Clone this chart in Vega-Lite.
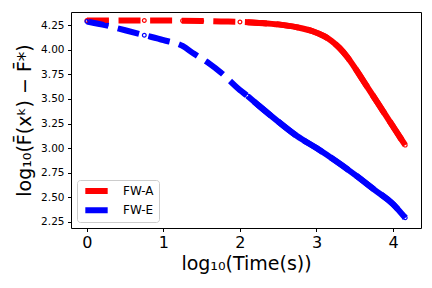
{
  "$schema": "https://vega.github.io/schema/vega-lite/v6.json",
  "width": 350,
  "height": 216,
  "autosize": {"type": "none"},
  "padding": {"left": 71, "top": 12, "right": 11, "bottom": 60},
  "background": "white",
  "config": {
    "view": {"stroke": "#000000", "strokeWidth": 1},
    "font": "DejaVu Sans",
    "axis": {
      "grid": false,
      "domain": false,
      "tickColor": "#000000",
      "tickSize": 3.5,
      "tickWidth": 1,
      "labelColor": "#000000",
      "labelFont": "DejaVu Sans",
      "titleFont": "DejaVu Sans",
      "titleColor": "#000000",
      "titleFontWeight": "normal"
    }
  },
  "data": {
    "values": [
      {"series": "FW-A", "t": 0, "v": 4.30},
      {"series": "FW-A", "t": 0.25, "v": 4.30},
      {"series": "FW-A", "t": 0.5, "v": 4.30},
      {"series": "FW-A", "t": 0.75, "v": 4.30},
      {"series": "FW-A", "t": 1.0, "v": 4.30},
      {"series": "FW-A", "t": 1.25, "v": 4.298},
      {"series": "FW-A", "t": 1.5, "v": 4.295},
      {"series": "FW-A", "t": 1.75, "v": 4.29},
      {"series": "FW-A", "t": 2.0, "v": 4.285},
      {"series": "FW-A", "t": 2.1, "v": 4.282},
      {"series": "FW-A", "t": 2.25, "v": 4.275},
      {"series": "FW-A", "t": 2.5, "v": 4.26},
      {"series": "FW-A", "t": 2.75, "v": 4.23},
      {"series": "FW-A", "t": 2.95, "v": 4.19},
      {"series": "FW-A", "t": 3.1, "v": 4.14},
      {"series": "FW-A", "t": 3.2, "v": 4.09},
      {"series": "FW-A", "t": 3.3, "v": 4.02},
      {"series": "FW-A", "t": 3.4, "v": 3.93},
      {"series": "FW-A", "t": 3.5, "v": 3.82},
      {"series": "FW-A", "t": 3.6, "v": 3.70},
      {"series": "FW-A", "t": 3.7, "v": 3.58},
      {"series": "FW-A", "t": 3.8, "v": 3.46},
      {"series": "FW-A", "t": 3.9, "v": 3.34},
      {"series": "FW-A", "t": 4.0, "v": 3.22},
      {"series": "FW-A", "t": 4.1, "v": 3.10},
      {"series": "FW-A", "t": 4.16, "v": 3.03},
      {"series": "FW-E", "t": 0, "v": 4.29},
      {"series": "FW-E", "t": 0.25, "v": 4.25},
      {"series": "FW-E", "t": 0.5, "v": 4.20},
      {"series": "FW-E", "t": 0.75, "v": 4.15},
      {"series": "FW-E", "t": 1.0, "v": 4.10},
      {"series": "FW-E", "t": 1.25, "v": 4.04},
      {"series": "FW-E", "t": 1.4, "v": 3.96},
      {"series": "FW-E", "t": 1.6, "v": 3.86},
      {"series": "FW-E", "t": 1.75, "v": 3.77},
      {"series": "FW-E", "t": 2.0, "v": 3.59},
      {"series": "FW-E", "t": 2.1, "v": 3.53},
      {"series": "FW-E", "t": 2.25, "v": 3.43},
      {"series": "FW-E", "t": 2.5, "v": 3.27},
      {"series": "FW-E", "t": 2.75, "v": 3.12},
      {"series": "FW-E", "t": 3.0, "v": 3.00},
      {"series": "FW-E", "t": 3.25, "v": 2.87},
      {"series": "FW-E", "t": 3.5, "v": 2.73},
      {"series": "FW-E", "t": 3.75, "v": 2.58},
      {"series": "FW-E", "t": 4.0, "v": 2.43},
      {"series": "FW-E", "t": 4.16, "v": 2.29}
    ]
  },
  "encoding": {
    "x": {
      "field": "t", "type": "quantitative",
      "scale": {"domain": [-0.208, 4.366], "nice": false, "zero": false},
      "axis": {
        "values": [0, 1, 2, 3, 4], "format": "d",
        "labelFontSize": 16, "labelPadding": 3,
        "title": "log₁₀(Time(s))", "titleFontSize": 19, "titlePadding": 4
      }
    },
    "y": {
      "field": "v", "type": "quantitative",
      "scale": {"domain": [2.186, 4.386], "nice": false, "zero": false},
      "axis": {
        "values": [2.25, 2.5, 2.75, 3.0, 3.25, 3.5, 3.75, 4.0, 4.25], "format": ".2f",
        "labelFontSize": 10.5, "labelPadding": 3.5,
        "title": "log₁₀(F̄(xᵏ) − F̄*)", "titleFontSize": 19, "titlePadding": 6
      }
    }
  },
  "layer": [
    {
      "transform": [{"filter": "datum.t >= 2.1"}],
      "mark": {"type": "line", "strokeWidth": 6, "strokeCap": "butt", "interpolate": "monotone"},
      "encoding": {
        "color": {
          "field": "series", "type": "nominal",
          "scale": {"domain": ["FW-A", "FW-E"], "range": ["#ff0000", "#0000ff"]},
          "legend": {
            "title": null,
            "orient": "bottom-left",
            "offset": 6,
            "padding": 5,
            "symbolType": "stroke",
            "symbolSize": 500,
            "symbolStrokeWidth": 6,
            "symbolOpacity": 1,
            "labelFontSize": 12,
            "labelFont": "DejaVu Sans",
            "labelColor": "#000000",
            "labelOffset": 12,
            "clipHeight": 12,
            "rowPadding": 7.2,
            "strokeColor": "#cccccc",
            "fillColor": "white",
            "cornerRadius": 3
          }
        }
      }
    },
    {
      "mark": {"type": "line", "strokeWidth": 6, "strokeDash": [22, 9.6], "strokeCap": "butt", "interpolate": "monotone"},
      "encoding": {
        "stroke": {
          "field": "series", "type": "nominal",
          "scale": {"domain": ["FW-A", "FW-E"], "range": ["#ff0000", "#0000ff"]},
          "legend": null
        }
      }
    },
    {
      "mark": {"type": "point", "shape": "circle", "filled": false, "size": 14, "strokeWidth": 1.2, "opacity": 1},
      "encoding": {
        "stroke": {
          "field": "series", "type": "nominal",
          "scale": {"domain": ["FW-A", "FW-E"], "range": ["#ff0000", "#0000ff"]},
          "legend": null
        }
      }
    }
  ]
}
